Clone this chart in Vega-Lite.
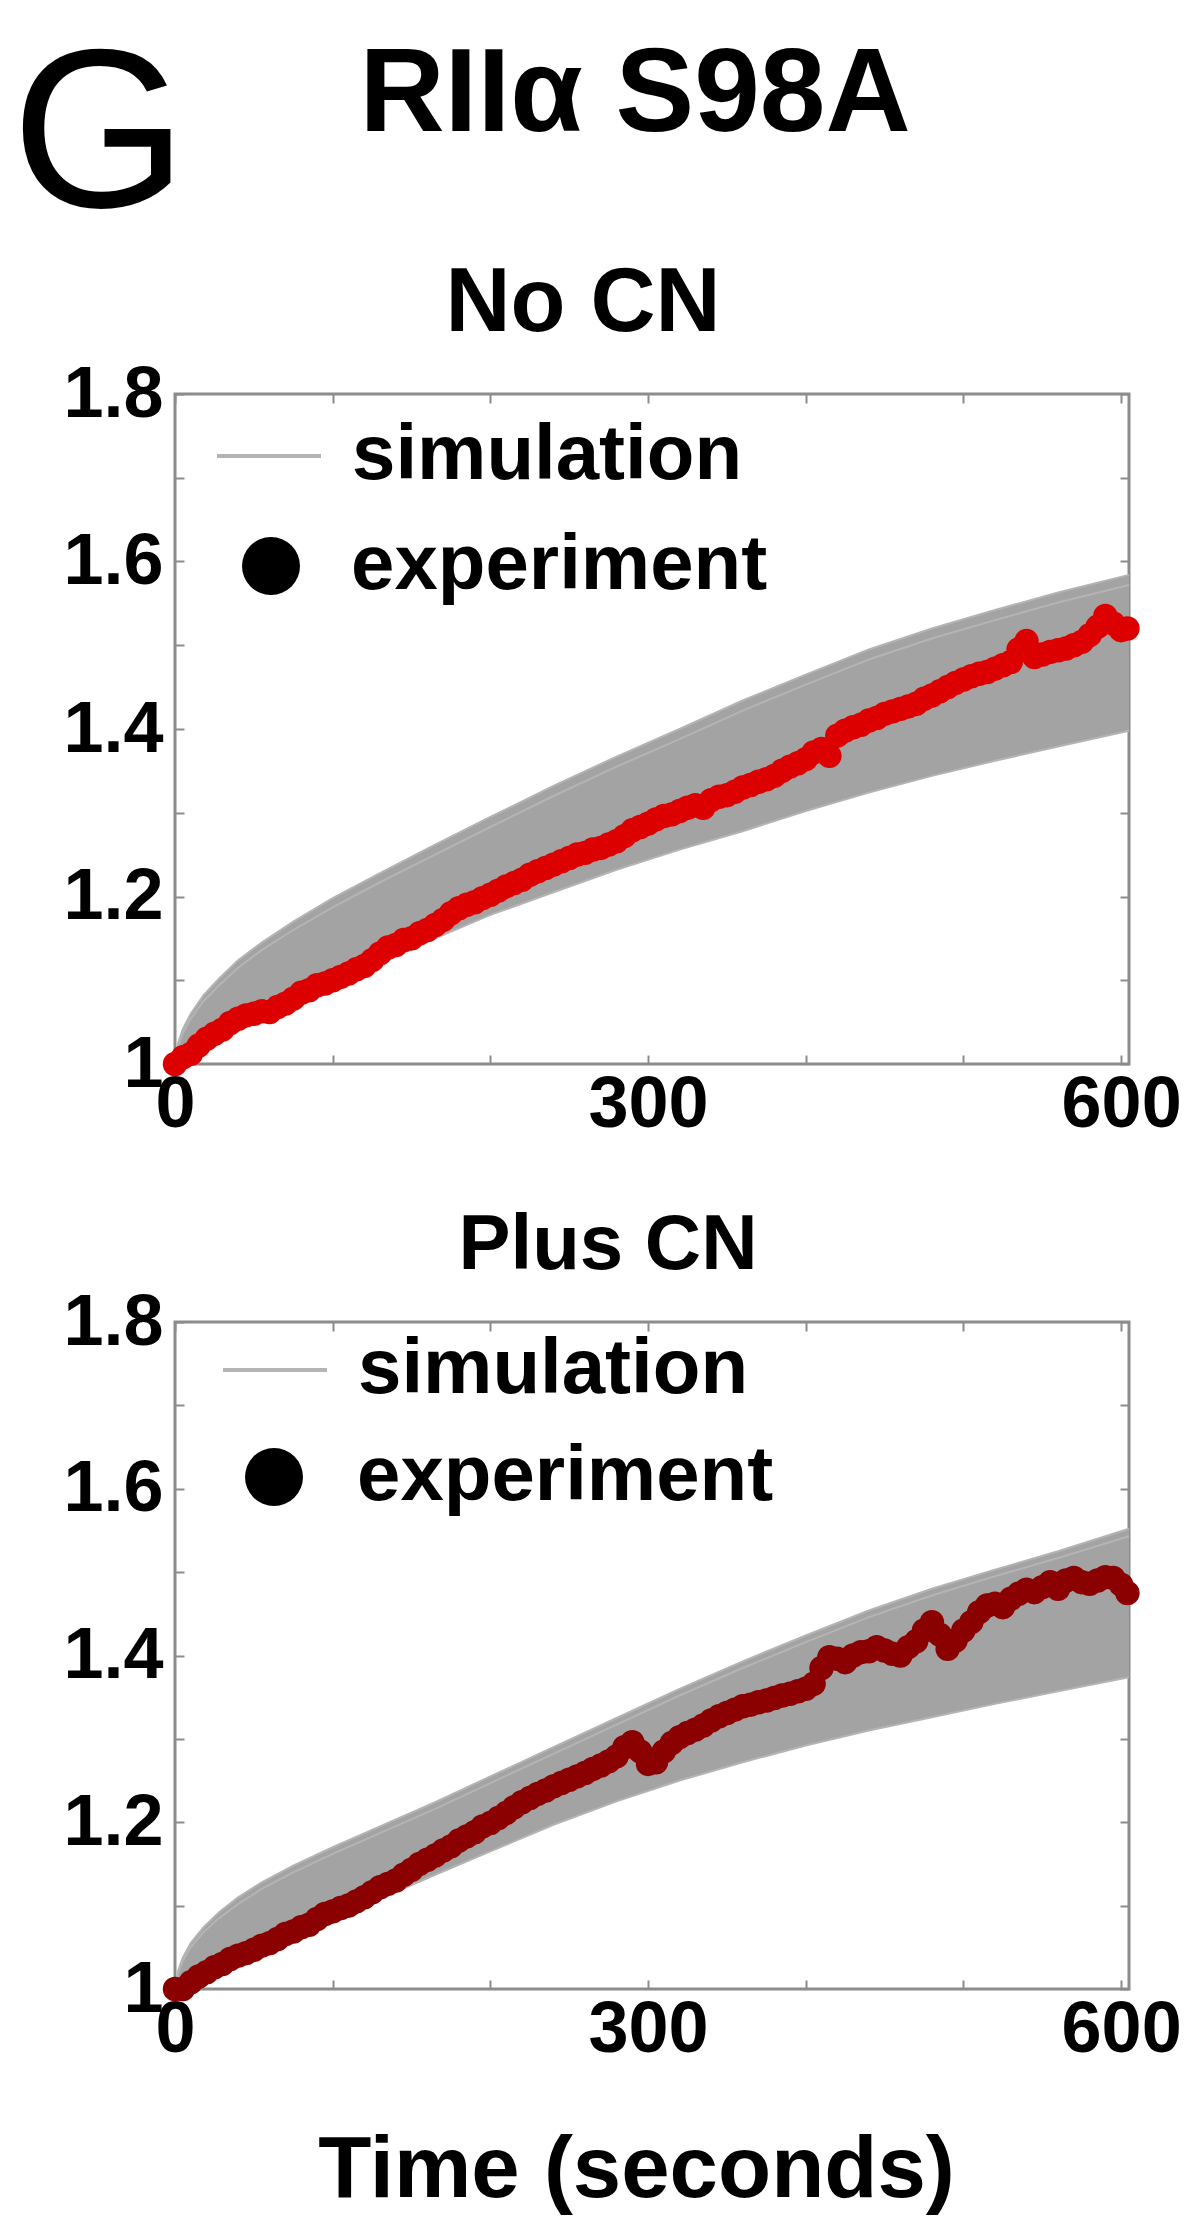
{
  "$schema": "https://vega.github.io/schema/vega-lite/v6.json",
  "padding": {"left": 11, "top": 25, "right": 5, "bottom": 5},
  "title": {"text": "G", "anchor": "start", "frame": "bounds", "fontSize": 226, "fontWeight": "normal", "baseline": "alphabetic", "offset": 0, "dx": -50, "dy": 396},
  "datasets": {
    "sim1": [
      {"t":0,"run":"a","v":1.000},{"t":2,"run":"a","v":1.025},{"t":5,"run":"a","v":1.042},{"t":10,"run":"a","v":1.060},{"t":18,"run":"a","v":1.082},{"t":28,"run":"a","v":1.102},{"t":40,"run":"a","v":1.124},{"t":55,"run":"a","v":1.145},{"t":75,"run":"a","v":1.170},{"t":100,"run":"a","v":1.198},{"t":130,"run":"a","v":1.228},{"t":165,"run":"a","v":1.262},{"t":200,"run":"a","v":1.295},{"t":240,"run":"a","v":1.332},{"t":280,"run":"a","v":1.367},{"t":320,"run":"a","v":1.400},{"t":360,"run":"a","v":1.434},{"t":400,"run":"a","v":1.465},{"t":440,"run":"a","v":1.495},{"t":480,"run":"a","v":1.520},{"t":520,"run":"a","v":1.542},{"t":560,"run":"a","v":1.563},{"t":605,"run":"a","v":1.584},
      {"t":0,"run":"b","v":1.000},{"t":2,"run":"b","v":1.021},{"t":5,"run":"b","v":1.037},{"t":10,"run":"b","v":1.054},{"t":18,"run":"b","v":1.075},{"t":28,"run":"b","v":1.094},{"t":40,"run":"b","v":1.115},{"t":55,"run":"b","v":1.136},{"t":75,"run":"b","v":1.160},{"t":100,"run":"b","v":1.187},{"t":130,"run":"b","v":1.217},{"t":165,"run":"b","v":1.250},{"t":200,"run":"b","v":1.283},{"t":240,"run":"b","v":1.320},{"t":280,"run":"b","v":1.355},{"t":320,"run":"b","v":1.388},{"t":360,"run":"b","v":1.422},{"t":400,"run":"b","v":1.453},{"t":440,"run":"b","v":1.483},{"t":480,"run":"b","v":1.508},{"t":520,"run":"b","v":1.530},{"t":560,"run":"b","v":1.551},{"t":605,"run":"b","v":1.572},
      {"t":0,"run":"d","v":1.000},{"t":2,"run":"d","v":1.003},{"t":5,"run":"d","v":1.007},{"t":10,"run":"d","v":1.013},{"t":18,"run":"d","v":1.022},{"t":28,"run":"d","v":1.032},{"t":40,"run":"d","v":1.045},{"t":55,"run":"d","v":1.058},{"t":75,"run":"d","v":1.075},{"t":100,"run":"d","v":1.095},{"t":130,"run":"d","v":1.120},{"t":165,"run":"d","v":1.150},{"t":200,"run":"d","v":1.178},{"t":240,"run":"d","v":1.205},{"t":280,"run":"d","v":1.232},{"t":320,"run":"d","v":1.256},{"t":360,"run":"d","v":1.278},{"t":400,"run":"d","v":1.302},{"t":440,"run":"d","v":1.324},{"t":480,"run":"d","v":1.344},{"t":520,"run":"d","v":1.362},{"t":560,"run":"d","v":1.379},{"t":605,"run":"d","v":1.398}
    ],
    "sim2": [
      {"t":0,"run":"a","v":1.000},{"t":2,"run":"a","v":1.022},{"t":5,"run":"a","v":1.038},{"t":10,"run":"a","v":1.055},{"t":18,"run":"a","v":1.074},{"t":28,"run":"a","v":1.092},{"t":40,"run":"a","v":1.110},{"t":55,"run":"a","v":1.128},{"t":75,"run":"a","v":1.148},{"t":100,"run":"a","v":1.170},{"t":130,"run":"a","v":1.195},{"t":165,"run":"a","v":1.224},{"t":200,"run":"a","v":1.255},{"t":240,"run":"a","v":1.290},{"t":280,"run":"a","v":1.325},{"t":320,"run":"a","v":1.360},{"t":360,"run":"a","v":1.393},{"t":400,"run":"a","v":1.424},{"t":440,"run":"a","v":1.454},{"t":480,"run":"a","v":1.480},{"t":520,"run":"a","v":1.503},{"t":560,"run":"a","v":1.525},{"t":605,"run":"a","v":1.552},
      {"t":0,"run":"b","v":1.000},{"t":2,"run":"b","v":1.019},{"t":5,"run":"b","v":1.034},{"t":10,"run":"b","v":1.050},{"t":18,"run":"b","v":1.068},{"t":28,"run":"b","v":1.085},{"t":40,"run":"b","v":1.102},{"t":55,"run":"b","v":1.120},{"t":75,"run":"b","v":1.140},{"t":100,"run":"b","v":1.162},{"t":130,"run":"b","v":1.187},{"t":165,"run":"b","v":1.216},{"t":200,"run":"b","v":1.247},{"t":240,"run":"b","v":1.282},{"t":280,"run":"b","v":1.317},{"t":320,"run":"b","v":1.352},{"t":360,"run":"b","v":1.385},{"t":400,"run":"b","v":1.416},{"t":440,"run":"b","v":1.446},{"t":480,"run":"b","v":1.472},{"t":520,"run":"b","v":1.495},{"t":560,"run":"b","v":1.517},{"t":605,"run":"b","v":1.543},
      {"t":0,"run":"d","v":1.000},{"t":2,"run":"d","v":1.002},{"t":5,"run":"d","v":1.005},{"t":10,"run":"d","v":1.010},{"t":18,"run":"d","v":1.017},{"t":28,"run":"d","v":1.026},{"t":40,"run":"d","v":1.036},{"t":55,"run":"d","v":1.048},{"t":75,"run":"d","v":1.063},{"t":100,"run":"d","v":1.083},{"t":130,"run":"d","v":1.108},{"t":165,"run":"d","v":1.137},{"t":200,"run":"d","v":1.165},{"t":240,"run":"d","v":1.197},{"t":280,"run":"d","v":1.225},{"t":320,"run":"d","v":1.250},{"t":360,"run":"d","v":1.272},{"t":400,"run":"d","v":1.292},{"t":440,"run":"d","v":1.310},{"t":480,"run":"d","v":1.326},{"t":520,"run":"d","v":1.342},{"t":560,"run":"d","v":1.357},{"t":605,"run":"d","v":1.374}
    ],
    "exp1": [
      {"t":0,"v":1.000},{"t":5,"v":1.008},{"t":10,"v":1.012},{"t":15,"v":1.022},{"t":20,"v":1.030},{"t":25,"v":1.036},{"t":30,"v":1.041},{"t":35,"v":1.049},{"t":40,"v":1.054},{"t":45,"v":1.058},{"t":50,"v":1.060},{"t":55,"v":1.063},{"t":60,"v":1.062},{"t":65,"v":1.068},{"t":70,"v":1.072},{"t":75,"v":1.078},{"t":80,"v":1.085},{"t":85,"v":1.088},{"t":90,"v":1.094},{"t":95,"v":1.096},{"t":100,"v":1.100},{"t":105,"v":1.104},{"t":110,"v":1.108},{"t":115,"v":1.113},{"t":120,"v":1.117},{"t":125,"v":1.124},{"t":130,"v":1.132},{"t":135,"v":1.139},{"t":140,"v":1.142},{"t":145,"v":1.148},{"t":150,"v":1.150},{"t":155,"v":1.156},{"t":160,"v":1.160},{"t":165,"v":1.166},{"t":170,"v":1.172},{"t":175,"v":1.180},{"t":180,"v":1.186},{"t":185,"v":1.190},{"t":190,"v":1.193},{"t":195,"v":1.198},{"t":200,"v":1.202},{"t":205,"v":1.207},{"t":210,"v":1.212},{"t":215,"v":1.216},{"t":220,"v":1.220},{"t":225,"v":1.226},{"t":230,"v":1.230},{"t":235,"v":1.234},{"t":240,"v":1.238},{"t":245,"v":1.242},{"t":250,"v":1.246},{"t":255,"v":1.250},{"t":260,"v":1.252},{"t":265,"v":1.256},{"t":270,"v":1.258},{"t":275,"v":1.262},{"t":280,"v":1.266},{"t":285,"v":1.272},{"t":290,"v":1.279},{"t":295,"v":1.283},{"t":300,"v":1.287},{"t":305,"v":1.292},{"t":310,"v":1.296},{"t":315,"v":1.298},{"t":320,"v":1.302},{"t":325,"v":1.306},{"t":330,"v":1.309},{"t":335,"v":1.306},{"t":340,"v":1.315},{"t":345,"v":1.319},{"t":350,"v":1.321},{"t":355,"v":1.325},{"t":360,"v":1.330},{"t":365,"v":1.333},{"t":370,"v":1.337},{"t":375,"v":1.340},{"t":380,"v":1.344},{"t":385,"v":1.350},{"t":390,"v":1.355},{"t":395,"v":1.359},{"t":400,"v":1.364},{"t":405,"v":1.372},{"t":410,"v":1.376},{"t":415,"v":1.368},{"t":420,"v":1.392},{"t":425,"v":1.398},{"t":430,"v":1.402},{"t":435,"v":1.405},{"t":440,"v":1.410},{"t":445,"v":1.413},{"t":450,"v":1.418},{"t":455,"v":1.421},{"t":460,"v":1.424},{"t":465,"v":1.427},{"t":470,"v":1.430},{"t":475,"v":1.436},{"t":480,"v":1.440},{"t":485,"v":1.445},{"t":490,"v":1.450},{"t":495,"v":1.455},{"t":500,"v":1.459},{"t":505,"v":1.463},{"t":510,"v":1.466},{"t":515,"v":1.468},{"t":520,"v":1.472},{"t":525,"v":1.476},{"t":530,"v":1.480},{"t":535,"v":1.495},{"t":540,"v":1.505},{"t":545,"v":1.486},{"t":550,"v":1.489},{"t":555,"v":1.492},{"t":560,"v":1.494},{"t":565,"v":1.496},{"t":570,"v":1.500},{"t":575,"v":1.504},{"t":580,"v":1.512},{"t":585,"v":1.522},{"t":590,"v":1.535},{"t":595,"v":1.526},{"t":600,"v":1.518},{"t":604,"v":1.520}
    ],
    "exp2": [
      {"t":0,"v":1.000},{"t":5,"v":1.000},{"t":10,"v":1.008},{"t":15,"v":1.015},{"t":20,"v":1.020},{"t":25,"v":1.026},{"t":30,"v":1.030},{"t":35,"v":1.036},{"t":40,"v":1.040},{"t":45,"v":1.043},{"t":50,"v":1.047},{"t":55,"v":1.052},{"t":60,"v":1.055},{"t":65,"v":1.060},{"t":70,"v":1.066},{"t":75,"v":1.069},{"t":80,"v":1.074},{"t":85,"v":1.077},{"t":90,"v":1.084},{"t":95,"v":1.090},{"t":100,"v":1.093},{"t":105,"v":1.097},{"t":110,"v":1.100},{"t":115,"v":1.105},{"t":120,"v":1.110},{"t":125,"v":1.116},{"t":130,"v":1.122},{"t":135,"v":1.126},{"t":140,"v":1.130},{"t":145,"v":1.137},{"t":150,"v":1.143},{"t":155,"v":1.150},{"t":160,"v":1.155},{"t":165,"v":1.160},{"t":170,"v":1.166},{"t":175,"v":1.171},{"t":180,"v":1.178},{"t":185,"v":1.183},{"t":190,"v":1.188},{"t":195,"v":1.195},{"t":200,"v":1.199},{"t":205,"v":1.205},{"t":210,"v":1.211},{"t":215,"v":1.218},{"t":220,"v":1.224},{"t":225,"v":1.229},{"t":230,"v":1.234},{"t":235,"v":1.238},{"t":240,"v":1.243},{"t":245,"v":1.247},{"t":250,"v":1.251},{"t":255,"v":1.255},{"t":260,"v":1.259},{"t":265,"v":1.264},{"t":270,"v":1.268},{"t":275,"v":1.273},{"t":280,"v":1.279},{"t":285,"v":1.290},{"t":290,"v":1.296},{"t":295,"v":1.285},{"t":300,"v":1.270},{"t":305,"v":1.272},{"t":310,"v":1.285},{"t":315,"v":1.295},{"t":320,"v":1.302},{"t":325,"v":1.307},{"t":330,"v":1.311},{"t":335,"v":1.316},{"t":340,"v":1.322},{"t":345,"v":1.327},{"t":350,"v":1.331},{"t":355,"v":1.335},{"t":360,"v":1.339},{"t":365,"v":1.341},{"t":370,"v":1.344},{"t":375,"v":1.346},{"t":380,"v":1.349},{"t":385,"v":1.352},{"t":390,"v":1.354},{"t":395,"v":1.357},{"t":400,"v":1.360},{"t":405,"v":1.366},{"t":410,"v":1.385},{"t":415,"v":1.398},{"t":420,"v":1.396},{"t":425,"v":1.392},{"t":430,"v":1.400},{"t":435,"v":1.404},{"t":440,"v":1.405},{"t":445,"v":1.410},{"t":450,"v":1.406},{"t":455,"v":1.402},{"t":460,"v":1.400},{"t":465,"v":1.410},{"t":470,"v":1.417},{"t":475,"v":1.430},{"t":480,"v":1.440},{"t":485,"v":1.425},{"t":490,"v":1.408},{"t":495,"v":1.418},{"t":500,"v":1.430},{"t":505,"v":1.440},{"t":510,"v":1.452},{"t":515,"v":1.460},{"t":520,"v":1.462},{"t":525,"v":1.458},{"t":530,"v":1.468},{"t":535,"v":1.474},{"t":540,"v":1.479},{"t":545,"v":1.476},{"t":550,"v":1.482},{"t":555,"v":1.488},{"t":560,"v":1.480},{"t":565,"v":1.490},{"t":570,"v":1.493},{"t":575,"v":1.488},{"t":580,"v":1.486},{"t":585,"v":1.490},{"t":590,"v":1.494},{"t":595,"v":1.493},{"t":600,"v":1.485},{"t":604,"v":1.475}
    ]
  },
  "vconcat": [
    {
      "title": {"text": "RIIα S98A", "fontSize": 118, "fontWeight": "bold", "anchor": "middle", "frame": "bounds", "baseline": "alphabetic", "offset": 9, "dx": 13},
      "spacing": 63,
      "resolve": {"scale": {"fill": "independent", "stroke": "independent"}},
      "vconcat": [
        {
          "width": 954, "height": 670,
          "title": {"text": "No CN", "fontSize": 90, "fontWeight": "bold", "anchor": "middle", "frame": "group", "baseline": "alphabetic", "offset": -63, "dx": -69},
          "layer": [
            {
              "data": {"name": "sim1"},
              "mark": {"type": "area", "color": "#a3a3a3", "opacity": 1},
              "encoding": {
                "x": {"field": "t", "type": "quantitative", "scale": {"domain": [0, 605], "nice": false, "zero": false},
                      "axis": {"orient": "bottom", "values": [0,100,200,300,400,500,600], "labelExpr": "datum.value % 300 === 0 ? datum.label : ''", "title": null, "labelPadding": 14}},
                "y": {"aggregate": "min", "field": "v", "type": "quantitative", "scale": {"domain": [1, 1.8], "nice": false, "zero": false},
                      "axis": {"orient": "left", "values": [1,1.1,1.2,1.3,1.4,1.5,1.6,1.7,1.8], "format": "~g", "labelExpr": "round(datum.value*10) % 2 === 0 ? datum.label : ''", "title": null, "labelPadding": 21}},
                "y2": {"aggregate": "max", "field": "v"}
              }
            },
            {
              "data": {"name": "sim1"},
              "mark": {"type": "line"},
              "encoding": {
                "x": {"field": "t", "type": "quantitative", "axis": {"orient": "top", "values": [0,100,200,300,400,500,600], "labels": false, "title": null}},
                "y": {"field": "v", "type": "quantitative", "axis": {"orient": "right", "values": [1,1.1,1.2,1.3,1.4,1.5,1.6,1.7,1.8], "labels": false, "title": null}},
                "detail": {"field": "run", "type": "nominal"},
                "stroke": {"datum": "simulation", "type": "nominal", "scale": {"domain": ["simulation"], "range": ["#b4b4b4"]},
                  "legend": {"orient": "none", "legendX": 40, "legendY": 8, "title": null, "padding": 0, "symbolType": "stroke",
                    "symbolSize": 10816, "symbolStrokeWidth": 4, "labelFontSize": 78, "labelFontWeight": "bold", "labelColor": "#000000", "labelOffset": 29, "labelLimit": 0}}
              }
            },
            {
              "data": {"name": "exp1"},
              "mark": {"type": "point", "filled": true, "size": 600, "color": "#dc0000", "opacity": 1, "clip": false},
              "encoding": {
                "x": {"field": "t", "type": "quantitative", "axis": null},
                "y": {"field": "v", "type": "quantitative", "axis": null}
              }
            },
            {
              "data": {"name": "exp1"},
              "transform": [{"filter": "datum.t === 0"}],
              "mark": {"type": "point", "filled": true, "shape": "circle", "opacity": 0},
              "encoding": {
                "x": {"field": "t", "type": "quantitative", "axis": null},
                "y": {"field": "v", "type": "quantitative", "axis": null},
                "fill": {"datum": "experiment", "type": "nominal", "scale": {"domain": ["experiment"], "range": ["#000000"]},
                  "legend": {"orient": "none", "legendX": 57, "legendY": 133, "title": null, "padding": 0, "symbolType": "circle", "symbolOpacity": 1,
                    "symbolSize": 3364, "labelFontSize": 78, "labelFontWeight": "bold", "labelColor": "#000000", "labelOffset": 41, "labelLimit": 0}}
              }
            }
          ],
          "resolve": {"axis": {"x": "independent", "y": "independent"}}
        },
        {
          "width": 954, "height": 667,
          "title": {"text": "Plus CN", "fontSize": 78, "fontWeight": "bold", "anchor": "middle", "frame": "group", "baseline": "alphabetic", "offset": -61, "dx": -44},
          "layer": [
            {
              "data": {"name": "sim2"},
              "mark": {"type": "area", "color": "#a3a3a3", "opacity": 1},
              "encoding": {
                "x": {"field": "t", "type": "quantitative", "scale": {"domain": [0, 605], "nice": false, "zero": false},
                      "axis": {"orient": "bottom", "values": [0,100,200,300,400,500,600], "labelExpr": "datum.value % 300 === 0 ? datum.label : ''", "title": "Time (seconds)", "titlePadding": 62, "titleX": 461, "titleFontSize": 87, "labelPadding": 14}},
                "y": {"aggregate": "min", "field": "v", "type": "quantitative", "scale": {"domain": [1, 1.8], "nice": false, "zero": false},
                      "axis": {"orient": "left", "values": [1,1.1,1.2,1.3,1.4,1.5,1.6,1.7,1.8], "format": "~g", "labelExpr": "round(datum.value*10) % 2 === 0 ? datum.label : ''", "title": null, "labelPadding": 21}},
                "y2": {"aggregate": "max", "field": "v"}
              }
            },
            {
              "data": {"name": "sim2"},
              "mark": {"type": "line"},
              "encoding": {
                "x": {"field": "t", "type": "quantitative", "axis": {"orient": "top", "values": [0,100,200,300,400,500,600], "labels": false, "title": null}},
                "y": {"field": "v", "type": "quantitative", "axis": {"orient": "right", "values": [1,1.1,1.2,1.3,1.4,1.5,1.6,1.7,1.8], "labels": false, "title": null}},
                "detail": {"field": "run", "type": "nominal"},
                "stroke": {"datum": "simulation", "type": "nominal", "scale": {"domain": ["simulation"], "range": ["#b4b4b4"]},
                  "legend": {"orient": "none", "legendX": 46, "legendY": -6, "title": null, "padding": 0, "symbolType": "stroke",
                    "symbolSize": 10816, "symbolStrokeWidth": 4, "labelFontSize": 78, "labelFontWeight": "bold", "labelColor": "#000000", "labelOffset": 29, "labelLimit": 0}}
              }
            },
            {
              "data": {"name": "exp2"},
              "mark": {"type": "point", "filled": true, "size": 600, "color": "#8b0000", "opacity": 1, "clip": false},
              "encoding": {
                "x": {"field": "t", "type": "quantitative", "axis": null},
                "y": {"field": "v", "type": "quantitative", "axis": null}
              }
            },
            {
              "data": {"name": "exp2"},
              "transform": [{"filter": "datum.t === 0"}],
              "mark": {"type": "point", "filled": true, "shape": "circle", "opacity": 0},
              "encoding": {
                "x": {"field": "t", "type": "quantitative", "axis": null},
                "y": {"field": "v", "type": "quantitative", "axis": null},
                "fill": {"datum": "experiment", "type": "nominal", "scale": {"domain": ["experiment"], "range": ["#000000"]},
                  "legend": {"orient": "none", "legendX": 60, "legendY": 116, "title": null, "padding": 0, "symbolType": "circle", "symbolOpacity": 1,
                    "symbolSize": 3364, "labelFontSize": 78, "labelFontWeight": "bold", "labelColor": "#000000", "labelOffset": 44, "labelLimit": 0}}
              }
            }
          ],
          "resolve": {"axis": {"x": "independent", "y": "independent"}}
        }
      ]
    }
  ],
  "config": {
    "font": "Liberation Sans",
    "background": "white",
    "view": {"stroke": "#8c8c8c", "strokeWidth": 3},
    "title": {"font": "Liberation Sans", "color": "#000000"},
    "axis": {"domain": false, "grid": false, "ticks": true, "tickColor": "#8c8c8c", "tickWidth": 2, "tickSize": -9,
             "labelFont": "Liberation Sans", "labelFontSize": 72, "labelFontWeight": "bold", "labelColor": "#000000",
             "labelOverlap": false, "labelFlush": false, "labelBound": false,
             "titleFont": "Liberation Sans", "titleFontSize": 82, "titleFontWeight": "bold", "titleColor": "#000000", "zindex": 1},
    "legend": {"labelFont": "Liberation Sans"}
  }
}
